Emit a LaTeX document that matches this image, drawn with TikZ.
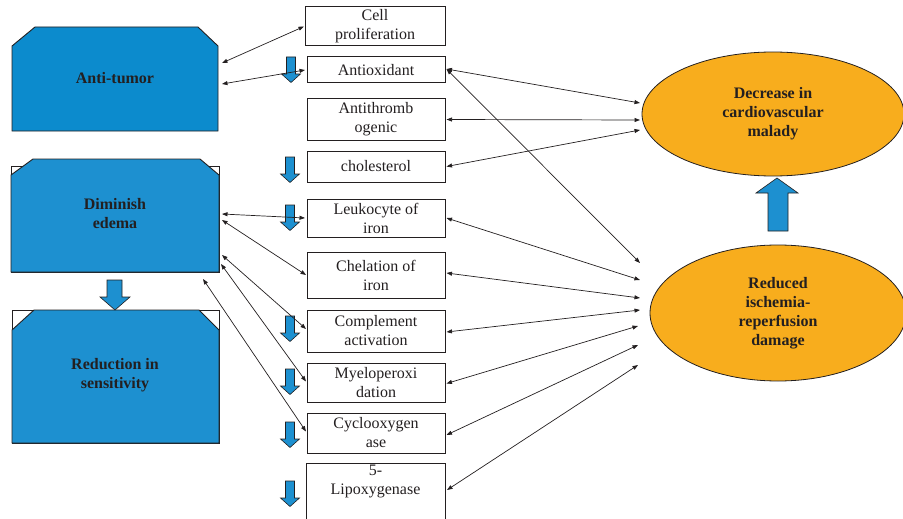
\documentclass[tikz,border=0pt]{standalone}
\usepackage{fontspec}
\setmainfont{Liberation Serif}
\usetikzlibrary{arrows.meta,shapes.geometric}
\definecolor{blueA}{RGB}{12,139,205}
\definecolor{blueB}{RGB}{29,144,208}
\definecolor{orangeF}{RGB}{248,173,29}
\definecolor{ink}{RGB}{35,31,32}
\newcommand{\sdarrow}[2]{%
  \draw[blockarr] (#1-4.5,#2) -- (#1+4.5,#2) -- (#1+4.5,#2+17) -- (#1+9.5,#2+17) -- (#1,#2+25.5) -- (#1-9.5,#2+17) -- (#1-4.5,#2+17) -- cycle;}
\tikzset{
  mbox/.style={draw=ink, line width=1pt, rectangle, minimum width=138pt, inner sep=0pt, outer sep=0pt, align=center, text=ink, font=\fontsize{16}{19}\selectfont},
  lbl/.style={align=center, text=ink, font=\fontsize{16}{19}\selectfont\bfseries},
  conn/.style={draw=ink, line width=0.7pt, {Triangle[length=5.5pt,width=4pt]}-{Triangle[length=5.5pt,width=4pt]}},
  blockarr/.style={draw=ink, line width=0.6pt, fill=blueB},
  bluesh/.style={draw=ink, line width=0.9pt},
  ell/.style={ellipse, draw=ink, line width=0.8pt, fill=orangeF, inner sep=0pt, align=center, text=ink, font=\fontsize{16}{19}\selectfont\bfseries}
}
\begin{document}
\begin{tikzpicture}[x=1pt,y=-1pt]
\useasboundingbox (0,0) rectangle (903,519);
% left shapes
\draw[bluesh, fill=blueA] (12,46) -- (35,27) -- (198,27) -- (218,46) -- (218,131) -- (12,131) -- cycle;
\node[lbl] (at) at (115,78) {Anti-tumor};
\draw[draw=ink, line width=0.9pt, fill=white] (11,166) rectangle (219,272);
\draw[bluesh, fill=blueB] (11,175) -- (33,159) -- (200,159) -- (219,175) -- (219,272) -- (11,272) -- cycle;
\node[lbl] (de) at (115,214) {Diminish\\edema};
\draw[draw=ink, line width=0.9pt, fill=white] (12,310) rectangle (219,443);
\draw[bluesh, fill=blueB] (12,330) -- (34,310) -- (199,310) -- (219,330) -- (219,443) -- (12,443) -- cycle;
\node[lbl] (rs) at (115,375) {Reduction in\\sensitivity};
% big arrows
\draw[blockarr] (107,280) -- (122,280) -- (122,297) -- (130,297) -- (115,310) -- (100,297) -- (107,297) -- cycle;
\draw[blockarr] (768,231) -- (788,231) -- (788,193) -- (798,193) -- (777,178) -- (756,193) -- (768,193) -- cycle;
% middle boxes
\node[mbox, minimum width=140pt, minimum height=39pt] (cp) at (375,26.5) {Cell\\proliferation};
\node[mbox, minimum height=26pt] (ao) at (376,70) {Antioxidant};
\node[mbox, minimum height=41pt] (ath) at (376,119.5) {Antithromb\\ogenic};
\node[mbox, minimum height=31pt] (ch) at (376,166.5) {cholesterol};
\node[mbox, minimum height=38pt] (lk) at (376,218) {Leukocyte of\\iron};
\node[mbox, minimum height=46pt] (cl) at (376,275) {Chelation of\\iron};
\node[mbox, minimum height=42pt] (ca) at (376,331) {Complement\\activation};
\node[mbox, minimum height=39pt] (my) at (376,382.5) {Myeloperoxi\\dation};
\node[mbox, minimum height=40pt] (cy) at (376,433) {Cyclooxygen\\ase};
\draw[draw=ink, line width=1pt] (306,520) -- (306,463) -- (445,463) -- (445,520);
\node[align=center, text=ink, font=\fontsize{16}{19}\selectfont] (lxt) at (375.5,481.5) {5-\\Lipoxygenase};
% small arrows
\sdarrow{291}{57}
\sdarrow{290}{157}
\sdarrow{290}{205}
\sdarrow{290}{316}
\sdarrow{290}{369}
\sdarrow{290}{422}
\sdarrow{290}{481}
% ellipses
\node[ell, minimum width=262pt, minimum height=124pt] (dc) at (773,114) {Decrease in\\cardiovascular\\malady};
\node[ell, minimum width=256pt, minimum height=136pt] (ri) at (778,313) {Reduced\\ischemia-\\reperfusion\\damage};
% connector end points
\coordinate (at1) at (222,63);
\coordinate (at2) at (222,84);
\coordinate (de1) at (222,214);
\coordinate (de2) at (222,220);
\coordinate (de3) at (222,255);
\coordinate (de4) at (221,264);
\coordinate (de5) at (203,279);
\coordinate (dc1) at (640,103);
\coordinate (dc2) at (640,120);
\coordinate (dc3) at (640,130);
\coordinate (ri1) at (640,263);
\coordinate (ri2) at (640,280);
\coordinate (ri3) at (640,298);
\coordinate (ri4) at (640,310);
\coordinate (ri5) at (638,326);
\coordinate (ri6) at (638,345);
\coordinate (ri7) at (638,365);
\coordinate (lxe) at (447,490);
% left connectors
\draw[conn] (at1) -- ([xshift=-1pt]cp.west);
\draw[conn] (at2) -- ([xshift=-2pt]ao.west);
\draw[conn] (de1) -- ([xshift=-2pt]lk.west);
\draw[conn] (de2) -- ([xshift=-1pt]cl.west);
\draw[conn] (de3) -- ([xshift=-1pt,yshift=2pt]ca.west);
\draw[conn] (de4) -- ([xshift=-1pt,yshift=1pt]my.west);
\draw[conn] (de5) -- ([xshift=-1pt,yshift=1.5pt]cy.west);
% right connectors
\draw[conn] ([xshift=1.5pt,yshift=1pt]ao.east) -- (dc1);
\draw[conn] ([xshift=1.5pt]ath.east) -- (dc2);
\draw[conn] ([xshift=1.5pt]ch.east) -- (dc3);
\draw[conn] ([xshift=1.5pt,yshift=1pt]ao.east) -- (ri1);
\draw[conn] ([xshift=1.5pt]lk.east) -- (ri2);
\draw[conn] ([xshift=1.5pt,yshift=2pt]cl.east) -- (ri3);
\draw[conn] ([xshift=1.5pt,yshift=-1pt]ca.east) -- (ri4);
\draw[conn] ([xshift=1.5pt,yshift=-1pt]my.east) -- (ri5);
\draw[conn] ([xshift=1.5pt,yshift=-2pt]cy.east) -- (ri6);
\draw[conn] (lxe) -- (ri7);
\end{tikzpicture}
\end{document}
